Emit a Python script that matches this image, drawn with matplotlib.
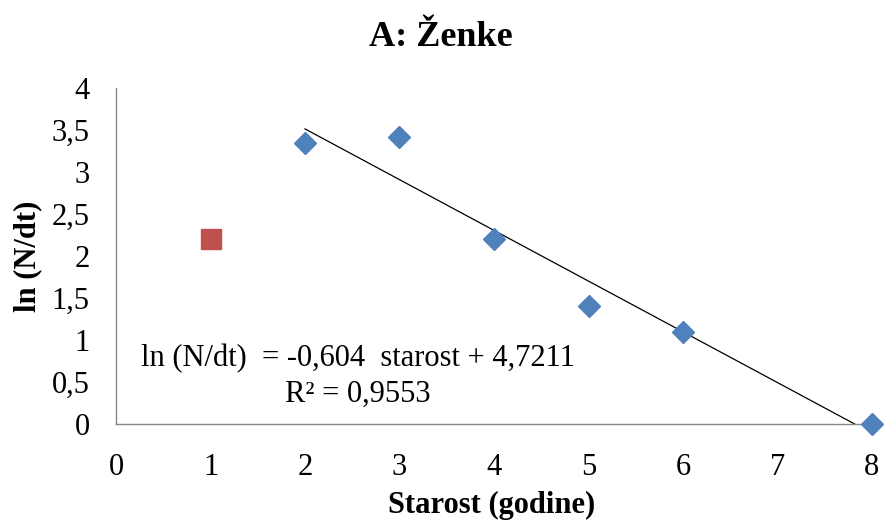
import matplotlib
matplotlib.use("Agg")
import matplotlib.pyplot as plt
import numpy as np

plt.rcParams['font.family'] = ['Liberation Serif', 'DejaVu Serif']

x_blue = [2, 3, 4, 5, 6, 8]
y_blue = [3.35, 3.42, 2.2, 1.4, 1.1, 0.0]
x_red = [1]
y_red = [2.2]
slope = -0.604
intercept = 4.7211
r2 = "0,9553"
xticks = [0, 1, 2, 3, 4, 5, 6, 7, 8]
yticks = [0, 0.5, 1, 1.5, 2, 2.5, 3, 3.5, 4]
ytick_labels = ["0", "0,5", "1", "1,5", "2", "2,5", "3", "3,5", "4"]

W, H = 885, 524
fig = plt.figure(figsize=(W / 100, H / 100), dpi=100)
ax = fig.add_axes([116 / W, 1 - 424 / H, (872 - 116) / W, (424 - 88) / H])

x_end = -intercept / slope
xl = np.array([2, x_end])
ax.plot(xl, slope * xl + intercept, color='black', lw=0.9, zorder=2)
ax.plot(x_blue, y_blue, 'D', color='#4F81BD', ms=11.2, mec='#4F81BD', zorder=3, clip_on=False)
ax.plot(x_red, y_red, 's', color='#C0504D', ms=14, mec='#C0504D', zorder=3, clip_on=False)

ax.set_xlim(0, 8)
ax.set_ylim(0, 4)
ax.set_xticks(xticks)
ax.set_yticks(yticks)
ax.set_yticklabels(ytick_labels)
ax.tick_params(length=0, labelsize=22)
ax.tick_params(axis='y', pad=19)
ax.tick_params(axis='x', pad=21)
for s in ['top', 'right']:
    ax.spines[s].set_visible(False)
for s in ['left', 'bottom']:
    ax.spines[s].set_color('#868686')
    ax.spines[s].set_linewidth(1.0)

fig.text(492 / W, 1 - 505 / H, 'Starost (godine)', fontsize=22, fontweight='bold', ha='center', va='center')
fig.text(28 / W, 1 - 256 / H, 'ln (N/dt)', fontsize=22, fontweight='bold', ha='center', va='center', rotation=90)
fig.text(441 / W, 1 - 38 / H, 'A: Ženke', fontsize=26, fontweight='bold', ha='center', va='center')

ax.text(358 / W, 1 - 376 / H, 'ln (N/dt)  = -0,604  starost + 4,7211\nR² = ' + r2, transform=fig.transFigure,
        fontsize=22, ha='center', va='center', multialignment='center', linespacing=1.3)

fig.savefig('out.png', dpi=100)
